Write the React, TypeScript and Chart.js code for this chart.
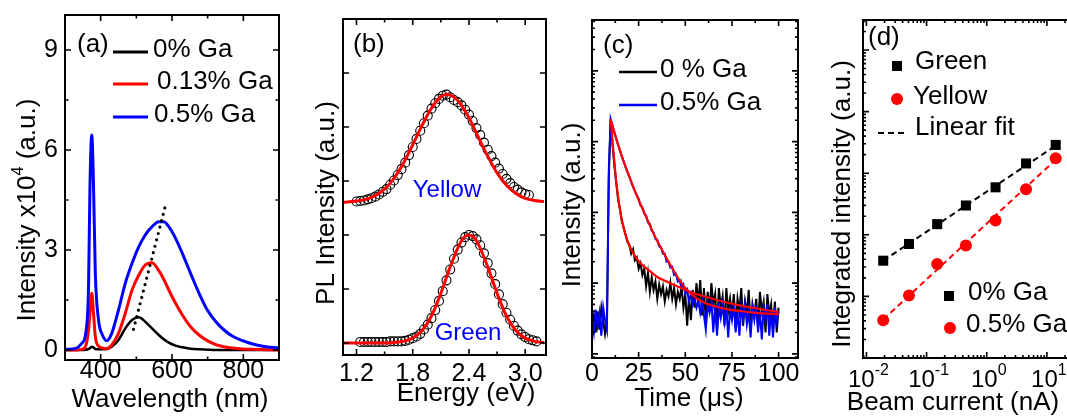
import React, { useEffect, useRef } from 'react';
import { Chart, registerables } from 'chart.js';

Chart.register(...registerables);

const FONT = '"Liberation Sans", Arial, Helvetica, sans-serif';
const RED = '#ff0000';
const BLUE = '#0000ff';
const BLACK = '#000000';

// ---------- (a) CL spectra ----------
const aWavelength = [300, 330, 347, 358, 366, 370, 375, 380, 385, 394, 405, 417, 431, 450, 469, 488, 507, 525, 544, 563, 577, 591, 610, 629, 652, 676, 699, 723, 746, 769, 798, 826, 863, 900];
const aGa0 = [0, 0, 0, 0.01, 0.03, 0.05, 0.1, 0.08, 0.03, 0.02, 0.02, 0.03, 0.1, 0.3, 0.65, 0.9, 0.98, 0.85, 0.65, 0.45, 0.32, 0.22, 0.13, 0.08, 0.04, 0.02, 0.01, 0, 0, 0, 0, 0, 0, 0];
const aGa013 = [0, 0, 0.02, 0.12, 0.6, 1.1, 1.7, 1.1, 0.4, 0.12, 0.06, 0.04, 0.15, 0.5, 1.1, 1.8, 2.25, 2.55, 2.62, 2.38, 2.12, 1.8, 1.4, 1.05, 0.7, 0.45, 0.28, 0.16, 0.1, 0.06, 0.03, 0.02, 0.01, 0];
const aGa05 = [0.02, 0.05, 0.2, 0.5, 1.9, 4.9, 6.45, 4.9, 2.3, 0.9, 0.45, 0.28, 0.5, 1.2, 2.0, 2.6, 3.1, 3.45, 3.7, 3.85, 3.85, 3.7, 3.35, 2.9, 2.3, 1.7, 1.2, 0.85, 0.6, 0.42, 0.28, 0.18, 0.1, 0.06];
const aGuideWl = [492, 582];
const aGuideVal = [0.62, 4.35];
const aXTicks = [400, 600, 800];
const aXMinor = [300, 500, 700, 900];
const aYTicks = [0, 3, 6, 9];
const aYMinor = [1.5, 4.5, 7.5];
const aLegend = ['0% Ga', '0.13% Ga', '0.5% Ga'];

// ---------- (b) PL spectra with fits ----------
const bYellowE = [1.20, 1.24, 1.28, 1.32, 1.36, 1.40, 1.44, 1.48, 1.52, 1.56, 1.60, 1.64, 1.68, 1.72, 1.76, 1.80, 1.84, 1.88, 1.92, 1.96, 2.00, 2.04, 2.08, 2.12, 2.16, 2.20, 2.24, 2.28, 2.32, 2.36, 2.40, 2.44, 2.48, 2.52, 2.56, 2.60, 2.64, 2.68, 2.72, 2.76, 2.80, 2.84, 2.88, 2.92, 2.96, 3.00, 3.04];
const bYellow = [2.62, 2.63, 2.64, 2.66, 2.68, 2.71, 2.75, 2.80, 2.85, 2.93, 3.01, 3.11, 3.22, 3.34, 3.48, 3.63, 3.78, 3.93, 4.07, 4.21, 4.34, 4.44, 4.52, 4.58, 4.60, 4.55, 4.50, 4.46, 4.40, 4.32, 4.23, 4.11, 3.98, 3.85, 3.71, 3.58, 3.46, 3.34, 3.23, 3.13, 3.04, 2.96, 2.89, 2.84, 2.79, 2.76, 2.74];
const bGreenE = [1.24, 1.28, 1.32, 1.36, 1.40, 1.44, 1.48, 1.52, 1.56, 1.60, 1.64, 1.68, 1.72, 1.76, 1.80, 1.84, 1.88, 1.92, 1.96, 2.00, 2.04, 2.08, 2.12, 2.16, 2.20, 2.24, 2.28, 2.32, 2.36, 2.40, 2.44, 2.48, 2.52, 2.56, 2.60, 2.64, 2.68, 2.72, 2.76, 2.80, 2.84, 2.88, 2.92, 2.96, 3.00, 3.04, 3.08, 3.12];
const bGreen = [0.02, 0.02, 0.02, 0.02, 0.02, 0.02, 0.02, 0.02, 0.03, 0.03, 0.03, 0.03, 0.04, 0.06, 0.09, 0.12, 0.17, 0.25, 0.34, 0.46, 0.61, 0.78, 0.96, 1.16, 1.36, 1.56, 1.73, 1.86, 1.96, 2.0, 1.98, 1.92, 1.81, 1.66, 1.48, 1.29, 1.09, 0.90, 0.72, 0.56, 0.43, 0.32, 0.23, 0.16, 0.11, 0.07, 0.05, 0.03];
const bYellowFitE = [1.0, 1.1, 1.2, 1.3, 1.4, 1.5, 1.6, 1.7, 1.8, 1.9, 2.0, 2.1, 2.15, 2.2, 2.3, 2.4, 2.5, 2.6, 2.7, 2.8, 2.9, 3.0, 3.1, 3.2];
const bYellowFit = [2.60, 2.61, 2.63, 2.66, 2.73, 2.85, 3.05, 3.33, 3.67, 4.03, 4.35, 4.56, 4.60, 4.59, 4.45, 4.17, 3.81, 3.46, 3.15, 2.92, 2.77, 2.68, 2.64, 2.62];
const bGreenFitE = [1.0, 1.1, 1.2, 1.3, 1.4, 1.5, 1.6, 1.7, 1.8, 1.9, 2.0, 2.1, 2.2, 2.3, 2.35, 2.4, 2.45, 2.5, 2.6, 2.7, 2.8, 2.9, 3.0, 3.1, 3.2];
const bGreenFit = [0, 0, 0, 0, 0, 0, 0.01, 0.03, 0.09, 0.23, 0.50, 0.92, 1.41, 1.83, 1.96, 2.0, 1.96, 1.83, 1.41, 0.92, 0.50, 0.23, 0.09, 0.03, 0.01];
const bXTicks = [1.2, 1.8, 2.4, 3.0];
const bXLabels = ['1.2', '1.8', '2.4', '3.0'];
const bXMinor = [1.5, 2.1, 2.7];
const bYTicks = [0, 1, 2, 3, 4, 5];

// ---------- (c) decay curves ----------
const cTime = [
  0, 1, 2, 3, 4, 5, 6, 7, 8, 9, 10, 11, 12, 13, 14, 15, 16, 17, 18, 19, 20,
  21, 22, 23, 24, 25, 26, 27, 28, 29, 30, 31, 32, 33, 34, 35, 36, 37, 38, 39, 40,
  41, 42, 43, 44, 45, 46, 47, 48, 49, 50, 51, 52, 53, 54, 55, 56, 57, 58, 59, 60,
  61, 62, 63, 64, 65, 66, 67, 68, 69, 70, 71, 72, 73, 74, 75, 76, 77, 78, 79, 80,
  81, 82, 83, 84, 85, 86, 87, 88, 89, 90, 91, 92, 93, 94, 95, 96, 97, 98, 99, 100,
];
const cGa0 = [
  0.25, 0.35, 0.2, 0.4, 0.22, 0.45, 0.3, 0.19, 0.28, 30, 207,
  90, 45, 26, 15, 11, 7.5, 6.0, 4.8, 3.8, 3.5,
  2.6, 3.0, 2.1, 2.3, 1.6, 1.9, 1.3, 1.6, 0.9, 1.4,
  0.75, 1.2, 0.8, 1.05, 0.6, 0.95, 0.7, 0.9, 0.55, 0.8,
  0.65, 1.0, 0.6, 0.85, 0.5, 0.75, 0.6, 0.9, 0.45, 0.7,
  0.25, 0.65, 0.3, 0.8, 0.45, 1.0, 0.5, 1.1, 0.35, 0.85,
  0.28, 0.75, 0.4, 1.0, 0.5, 0.7, 0.22, 0.85, 0.45, 0.65,
  0.25, 0.85, 0.4, 0.6, 0.35, 0.7, 0.22, 0.6, 0.4, 0.85,
  0.25, 0.55, 0.38, 0.8, 0.22, 0.5, 0.35, 0.6, 0.24, 0.75,
  0.4, 0.55, 0.2, 0.7, 0.35, 0.5, 0.22, 0.55, 0.2, 0.45,
];
const cGa05 = [
  0.3, 0.2, 0.42, 0.25, 0.38, 0.18, 0.45, 0.3, 0.22, 40, 207,
  165, 135, 110, 90, 75, 62, 52, 44, 37, 32,
  27, 23, 20, 17.5, 15.5, 12.5, 11.8, 9.6, 9.0, 7.2,
  6.9, 5.5, 5.2, 4.2, 4.1, 3.3, 3.2, 2.6, 2.6, 2.0,
  2.0, 1.65, 1.7, 1.3, 1.35, 1.05, 1.1, 0.85, 0.95, 0.7,
  0.8, 0.55, 0.7, 0.5, 0.62, 0.45, 0.55, 0.38, 0.55, 0.35,
  0.22, 0.5, 0.38, 0.55, 0.2, 0.48, 0.18, 0.45, 0.32, 0.5,
  0.28, 0.45, 0.17, 0.42, 0.3, 0.5, 0.2, 0.4, 0.18, 0.45,
  0.3, 0.5, 0.26, 0.4, 0.17, 0.45, 0.3, 0.48, 0.2, 0.4,
  0.16, 0.45, 0.3, 0.5, 0.18, 0.42, 0.17, 0.45, 0.28, 0.4,
];
const cFit0T = [10, 11, 12, 13, 14, 15, 16, 18, 20, 23, 26, 30, 35, 40, 45, 50, 60, 70, 80, 90, 100];
const cFit0 = [207, 100, 52, 27, 16.5, 11, 7.8, 4.8, 3.4, 2.4, 1.9, 1.55, 1.22, 1.05, 0.92, 0.8, 0.65, 0.55, 0.48, 0.43, 0.39];
const cFit05T = [10, 12, 14, 16, 18, 20, 23, 26, 30, 34, 38, 42, 46, 50, 55, 60, 70, 80, 90, 100];
const cFit05 = [207, 135, 90, 62, 44, 32, 20, 13, 7.5, 4.4, 2.8, 1.8, 1.2, 0.85, 0.64, 0.53, 0.44, 0.40, 0.375, 0.365];
const cXTicks = [0, 25, 50, 75, 100];
const cXMinor = [12.5, 37.5, 62.5, 87.5];
const cYDecades = [0.01, 0.1, 1, 10, 100, 1000];
const cLegend = ['0 % Ga', '0.5% Ga'];

// ---------- (d) integrated intensity vs beam current ----------
const dCurrent = [0.019, 0.051, 0.15, 0.45, 1.4, 4.5, 14];
const dGreen = [3.8, 7.1, 14.9, 29.9, 59, 144, 288];
const dYellow = [0.41, 1.03, 3.35, 6.7, 17.1, 55, 175];
const dFitCurrent = [0.019, 14];
const dGreenFit = [3.8, 280];
const dYellowFit = [0.42, 166];
const dXDecades = [0.01, 0.1, 1, 10];
const dXExponents = ['-2', '-1', '0', '1'];
const dYDecades = [0.1, 1, 10, 100, 1000, 10000];

// ---------- helpers ----------
const pts = (xs: number[], ys: number[]) => xs.map((x, i) => ({ x, y: ys[i] }));

const logMinor = (decades: number[]) => {
  const out: number[] = [];
  decades.forEach((d) => {
    for (let k = 2; k <= 9; k++) out.push(d * k);
  });
  return out;
};

function txt(ctx: CanvasRenderingContext2D, s: string, x: number, y: number, size = 26, align: CanvasTextAlign = 'left', color = BLACK) {
  ctx.font = `${size}px ${FONT}`;
  ctx.fillStyle = color;
  ctx.textAlign = align;
  ctx.textBaseline = 'middle';
  ctx.fillText(s, x, y);
}

function vtitle(ctx: CanvasRenderingContext2D, parts: { s: string; sup?: boolean }[], cx: number, cy: number, size = 26) {
  ctx.save();
  ctx.translate(cx, cy);
  ctx.rotate(-Math.PI / 2);
  ctx.textBaseline = 'middle';
  ctx.textAlign = 'left';
  ctx.fillStyle = BLACK;
  const fonts = parts.map((p) => `${p.sup ? Math.round(size * 0.62) : size}px ${FONT}`);
  let total = 0;
  const widths = parts.map((p, i) => {
    ctx.font = fonts[i];
    const w = ctx.measureText(p.s).width;
    total += w;
    return w;
  });
  let x = -total / 2;
  parts.forEach((p, i) => {
    ctx.font = fonts[i];
    ctx.fillText(p.s, x, p.sup ? -size * 0.36 : 0);
    x += widths[i];
  });
  ctx.restore();
}

function legendLine(ctx: CanvasRenderingContext2D, x1: number, x2: number, y: number, color: string, w = 3, dash: number[] = []) {
  ctx.save();
  ctx.strokeStyle = color;
  ctx.lineWidth = w;
  ctx.setLineDash(dash);
  ctx.beginPath();
  ctx.moveTo(x1, y);
  ctx.lineTo(x2, y);
  ctx.stroke();
  ctx.restore();
}

type FrameOpts = {
  ox: number;
  xMajor: number[];
  xMinor: number[];
  yMajor: number[];
  yMinor: number[];
  majorLen?: number;
  minorLen?: number;
  extra: (ctx: CanvasRenderingContext2D, px: (v: number) => number, py: (v: number) => number) => void;
};

function framePlugin(f: FrameOpts) {
  return {
    id: 'frame',
    afterDraw(chart: any) {
      const { ctx, chartArea: a } = chart;
      const xs = chart.scales.x;
      const ys = chart.scales.y;
      const ML = f.majorLen ?? 6;
      const mL = f.minorLen ?? 3.5;
      ctx.save();
      ctx.strokeStyle = BLACK;
      ctx.lineWidth = 1.6;
      ctx.beginPath();
      const xt = (vals: number[], len: number) =>
        vals.forEach((v) => {
          const p = xs.getPixelForValue(v);
          if (p < a.left - 0.5 || p > a.right + 0.5) return;
          ctx.moveTo(p, a.bottom);
          ctx.lineTo(p, a.bottom - len);
          ctx.moveTo(p, a.top);
          ctx.lineTo(p, a.top + len);
        });
      const yt = (vals: number[], len: number) =>
        vals.forEach((v) => {
          const p = ys.getPixelForValue(v);
          if (p < a.top - 0.5 || p > a.bottom + 0.5) return;
          ctx.moveTo(a.left, p);
          ctx.lineTo(a.left + len, p);
          ctx.moveTo(a.right, p);
          ctx.lineTo(a.right - len, p);
        });
      xt(f.xMajor, ML);
      xt(f.xMinor, mL);
      yt(f.yMajor, ML);
      yt(f.yMinor, mL);
      ctx.stroke();
      ctx.lineWidth = 2;
      ctx.strokeRect(a.left, a.top, a.right - a.left, a.bottom - a.top);
      ctx.translate(-f.ox, 0);
      f.extra(
        ctx,
        (v) => xs.getPixelForValue(v) + f.ox,
        (v) => ys.getPixelForValue(v)
      );
      ctx.restore();
    },
  };
}

const baseOptions = (padding: any, x: any, y: any) => ({
  responsive: false,
  animation: false,
  events: [],
  layout: { padding },
  plugins: { legend: { display: false }, tooltip: { enabled: false }, title: { display: false } },
  scales: { x: { display: false, ...x }, y: { display: false, ...y } },
});

const lineDs = (data: any, color: string, width: number, extra: any = {}) => ({
  data,
  borderColor: color,
  borderWidth: width,
  pointRadius: 0,
  fill: false,
  ...extra,
});

// ---------- panel configs ----------
const A_OX = 0;
function configA(): any {
  return {
    type: 'line',
    data: {
      datasets: [
        lineDs(pts(aGuideWl, aGuideVal), BLACK, 3.2, { borderDash: [0, 6.6], borderCapStyle: 'round' }),
        lineDs(pts(aWavelength, aGa05), BLUE, 3, { cubicInterpolationMode: 'monotone' }),
        lineDs(pts(aWavelength, aGa013), RED, 3, { cubicInterpolationMode: 'monotone' }),
        lineDs(pts(aWavelength, aGa0), BLACK, 2.5, { cubicInterpolationMode: 'monotone' }),
      ],
    },
    options: baseOptions({ left: 65, top: 15, right: 11, bottom: 57 }, { type: 'linear', min: 300, max: 900 }, { type: 'linear', min: -0.3, max: 10.05 }),
    plugins: [
      framePlugin({
        ox: A_OX,
        xMajor: aXTicks,
        xMinor: aXMinor,
        yMajor: aYTicks,
        yMinor: aYMinor,
        extra: (ctx, px, py) => {
          aYTicks.forEach((v) => txt(ctx, String(v), 58, py(v), 25, 'right'));
          aXTicks.forEach((v) => txt(ctx, String(v), px(v), 371.5, 25, 'center'));
          txt(ctx, 'Wavelength (nm)', 170, 399.5, 26, 'center');
          vtitle(ctx, [{ s: 'Intensity x10' }, { s: '4', sup: true }, { s: ' (a.u.)' }], 28, 210);
          txt(ctx, '(a)', 77, 45, 26);
          const colors = [BLACK, RED, BLUE];
          const ly = [52, 84, 117];
          const tx = [153, 157, 154];
          aLegend.forEach((s, i) => {
            legendLine(ctx, 113, 148, ly[i], colors[i], 3);
            txt(ctx, s, tx[i], ly[i] - 2, 26);
          });
        },
      }),
    ],
  };
}

const B_OX = 290;
function configB(): any {
  const circ = { showLine: false, pointRadius: 4.5, pointBorderColor: BLACK, pointBackgroundColor: 'rgba(0,0,0,0)', pointBorderWidth: 1.1, borderColor: BLACK };
  return {
    type: 'line',
    data: {
      datasets: [
        lineDs(pts(bYellowFitE, bYellowFit), RED, 3, { cubicInterpolationMode: 'monotone' }),
        lineDs(pts(bGreenFitE, bGreenFit), RED, 3, { cubicInterpolationMode: 'monotone' }),
        { data: pts(bYellowE, bYellow), ...circ },
        { data: pts(bGreenE, bGreen), ...circ },
      ],
    },
    options: baseOptions({ left: 53, top: 19, right: 14, bottom: 62 }, { type: 'linear', min: 1.056, max: 3.222 }, { type: 'linear', min: -0.222, max: 6.0 }),
    plugins: [
      framePlugin({
        ox: B_OX,
        xMajor: bXTicks,
        xMinor: bXMinor,
        yMajor: bYTicks,
        yMinor: [],
        extra: (ctx, px) => {
          bXTicks.forEach((v, i) => txt(ctx, bXLabels[i], px(v), 374, 25, 'center'));
          txt(ctx, 'Energy (eV)', 466, 394, 26, 'center');
          vtitle(ctx, [{ s: 'PL Intensity (a.u.)' }], 327, 203);
          txt(ctx, '(b)', 353, 45, 26);
          txt(ctx, 'Yellow', 447, 190, 24, 'center', BLUE);
          txt(ctx, 'Green', 468, 333, 24, 'center', BLUE);
        },
      }),
    ],
  };
}

const C_OX = 560;
function configC(): any {
  return {
    type: 'line',
    data: {
      datasets: [
        lineDs(pts(cFit0T, cFit0), RED, 2.2, { cubicInterpolationMode: 'monotone' }),
        lineDs(pts(cFit05T, cFit05), RED, 2.2, { cubicInterpolationMode: 'monotone' }),
        lineDs(pts(cTime, cGa05), BLUE, 2, { tension: 0 }),
        lineDs(pts(cTime, cGa0), BLACK, 2, { tension: 0 }),
      ],
    },
    options: baseOptions({ left: 32, top: 20, right: 27, bottom: 59 }, { type: 'linear', min: 0, max: 110.4 }, { type: 'logarithmic', min: 0.0873, max: 5236 }),
    plugins: [
      framePlugin({
        ox: C_OX,
        xMajor: cXTicks,
        xMinor: cXMinor,
        yMajor: cYDecades,
        yMinor: logMinor(cYDecades),
        minorLen: 3,
        extra: (ctx, px) => {
          cXTicks.forEach((v) => txt(ctx, String(v), px(v), 374.5, 25, 'center'));
          txt(ctx, 'Time (\u03bcs)', 689, 399, 26, 'center');
          vtitle(ctx, [{ s: 'Intensity (a.u.)' }], 573, 205);
          txt(ctx, '(c)', 603, 46, 26);
          legendLine(ctx, 619, 657, 72, BLACK, 2.5);
          txt(ctx, cLegend[0], 660, 70, 26);
          legendLine(ctx, 619, 657, 105, BLUE, 2.5);
          txt(ctx, cLegend[1], 660, 103, 26);
        },
      }),
    ],
  };
}

const D_OX = 825;
function configD(): any {
  return {
    type: 'line',
    data: {
      datasets: [
        { data: pts(dCurrent, dGreen), showLine: false, pointStyle: 'rect', pointRadius: 7.1, pointBackgroundColor: BLACK, pointBorderColor: BLACK, pointBorderWidth: 0, borderColor: BLACK },
        { data: pts(dCurrent, dYellow), showLine: false, pointStyle: 'circle', pointRadius: 6, pointBackgroundColor: RED, pointBorderColor: RED, pointBorderWidth: 0, borderColor: RED },
        lineDs(pts(dFitCurrent, dGreenFit), BLACK, 2, { borderDash: [6, 4] }),
        lineDs(pts(dFitCurrent, dYellowFit), RED, 2, { borderDash: [6, 4] }),
      ],
    },
    options: baseOptions({ left: 38, top: 20, right: 23, bottom: 59 }, { type: 'logarithmic', min: 0.00877, max: 31.62 }, { type: 'logarithmic', min: 0.1, max: 30700 }),
    plugins: [
      framePlugin({
        ox: D_OX,
        xMajor: dXDecades,
        xMinor: logMinor([0.001, ...dXDecades]),
        yMajor: dYDecades,
        yMinor: logMinor(dYDecades),
        minorLen: 3,
        extra: (ctx, px) => {
          dXDecades.forEach((v, i) => {
            ctx.font = `24px ${FONT}`;
            const w1 = ctx.measureText('10').width;
            ctx.font = `16px ${FONT}`;
            const w2 = ctx.measureText(dXExponents[i]).width;
            const x0 = px(v) - (w1 + w2) / 2 + 2;
            txt(ctx, '10', x0, 380, 24, 'left');
            txt(ctx, dXExponents[i], x0 + w1, 370.5, 16, 'left');
          });
          txt(ctx, 'Beam current (nA)', 953, 403, 26, 'center');
          vtitle(ctx, [{ s: 'Integrated intensity (a.u.)' }], 843, 204);
          txt(ctx, '(d)', 868, 38, 26);
          ctx.fillStyle = BLACK;
          ctx.fillRect(892, 61, 10, 10);
          txt(ctx, 'Green', 915, 62, 26);
          ctx.fillStyle = RED;
          ctx.beginPath();
          ctx.arc(897, 99, 6, 0, Math.PI * 2);
          ctx.fill();
          txt(ctx, 'Yellow', 913, 97, 26);
          legendLine(ctx, 878, 904, 133, BLACK, 2, [6, 4]);
          txt(ctx, 'Linear fit', 915, 128, 26);
          ctx.fillStyle = BLACK;
          ctx.fillRect(944, 291, 10, 10);
          txt(ctx, '0% Ga', 968, 293, 26);
          ctx.fillStyle = RED;
          ctx.beginPath();
          ctx.arc(950, 328, 6, 0, Math.PI * 2);
          ctx.fill();
          txt(ctx, '0.5% Ga', 966, 325, 26);
        },
      }),
    ],
  };
}

function Panel({ left, width, make }: { left: number; width: number; make: () => any }) {
  const ref = useRef<HTMLCanvasElement>(null);
  useEffect(() => {
    if (!ref.current) return;
    const chart = new Chart(ref.current, make());
    return () => chart.destroy();
  }, []);
  return (
    <div style={{ position: 'absolute', left, top: 0, width, height: 417 }}>
      <canvas ref={ref} width={width} height={417} style={{ width, height: 417, display: 'block' }} />
    </div>
  );
}

export default function App() {
  return (
    <div style={{ position: 'fixed', left: 0, top: 0, width: 1067, height: 417, overflow: 'hidden', background: '#ffffff' }}>
      <Panel left={A_OX} width={290} make={configA} />
      <Panel left={B_OX} width={270} make={configB} />
      <Panel left={C_OX} width={265} make={configC} />
      <Panel left={D_OX} width={275} make={configD} />
    </div>
  );
}
